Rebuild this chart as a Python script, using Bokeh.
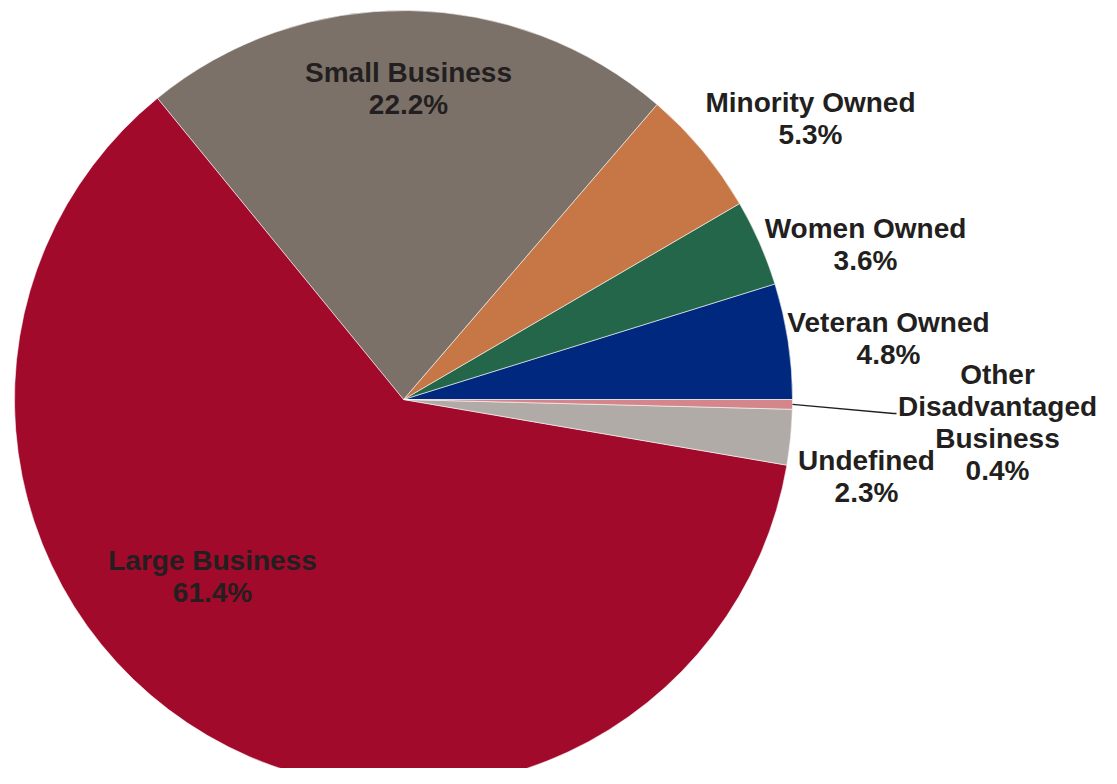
import math
from bokeh.plotting import figure
from bokeh.models import Range1d, ColumnDataSource
from bokeh.core.properties import value
from bokeh.embed import file_html
from bokeh.resources import INLINE

# ---- data ----
categories = ["Veteran Owned", "Women Owned", "Minority Owned", "Small Business",
              "Large Business", "Undefined", "Other Disadvantaged Business"]
shares = [4.8, 3.6, 5.3, 22.2, 61.4, 2.3, 0.4]
label_lines = [["Veteran Owned", "4.8%"], ["Women Owned", "3.6%"], ["Minority Owned", "5.3%"],
               ["Small Business", "22.2%"], ["Large Business", "61.4%"], ["Undefined", "2.3%"],
               ["Other", "Disadvantaged", "Business", "0.4%"]]

# ---- style / layout ----
colors = ["#00287F", "#23664A", "#C77645", "#7B7168", "#A10A2A", "#B1ABA7", "#D4868B"]
label_pos = [(888, 322), (865, 228), (810, 102), (408, 72), (212, 560), (866, 460), (997, 374)]
line_gap = 32
W, H = 1101, 768
CX, CY, R = 403, 399, 389

def py(y):  # picture y -> data y
    return H - y

p = figure(width=W, height=H, output_backend="svg", toolbar_location=None,
           x_range=Range1d(0, W), y_range=Range1d(0, H), min_border=0)
p.axis.visible = False
p.grid.visible = False
p.outline_line_color = None
p.background_fill_color = "white"

total = sum(shares)
starts, ends = [], []
acc = 0.0
for s in shares:
    starts.append(2 * math.pi * acc / total)
    acc += s
    ends.append(2 * math.pi * acc / total)

src = ColumnDataSource(dict(start=starts, end=ends, color=colors, cat=categories))
p.wedge(x=CX, y=py(CY), radius=R, start_angle="start", end_angle="end",
        fill_color="color", line_color="white", line_width=0.8, line_alpha=0.7, source=src)

# leader line for the small slice
mid = (starts[6] + ends[6]) / 2
x0 = CX + R * math.cos(mid)
y0 = py(CY) + R * math.sin(mid)
p.line([x0, 893, 896], [y0, py(413), py(413)], line_color="#231F20", line_width=1.3)

xs, ys, ts = [], [], []
for (lx, ly), lines in zip(label_pos, label_lines):
    for i, t in enumerate(lines):
        xs.append(lx)
        ys.append(py(ly + i * line_gap))
        ts.append(t)
p.text(x=xs, y=ys, text=ts, text_align="center", text_baseline="middle",
       text_font=value("Liberation Sans"), text_font_style="bold",
       text_font_size="28px", text_color="#231F20")

open("out.html", "w").write(file_html(p, INLINE))
